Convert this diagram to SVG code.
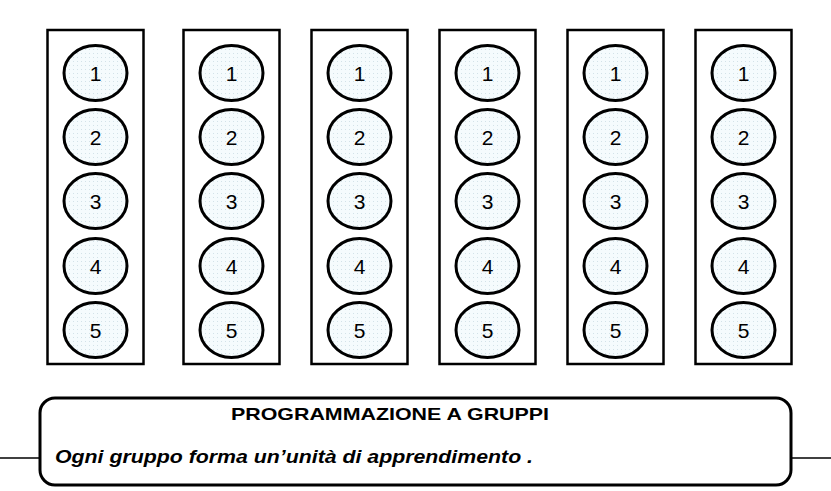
<svg xmlns="http://www.w3.org/2000/svg" width="831" height="491" viewBox="0 0 831 491">
<defs>
<pattern id="dots" width="4" height="4" patternUnits="userSpaceOnUse">
<rect width="4" height="4" fill="#f5fbfd"/>
<rect x="1" y="1" width="1" height="1" fill="#d3e2e8"/>
</pattern>
</defs>
<style>
.col{fill:#fff;stroke:#000;stroke-width:2.5}
.el{fill:url(#dots);stroke:#000;stroke-width:3}
.num{font-family:"Liberation Sans",Arial,sans-serif;font-size:21px;fill:#000;text-anchor:middle;dominant-baseline:central}
.box{fill:#fff;stroke:#000;stroke-width:3}
.title{font-family:"Liberation Sans",Arial,sans-serif;font-size:17px;font-weight:bold;fill:#000}
.sub{font-family:"Liberation Sans",Arial,sans-serif;font-size:18px;font-weight:bold;font-style:italic;fill:#000}
.ln{stroke:#000;stroke-width:1.3;fill:none}
</style>
<rect width="831" height="491" fill="#fff"/>
<g id="connectors">
<line class="ln" x1="0" y1="458" x2="40" y2="458"/>
<line class="ln" x1="791" y1="458" x2="831" y2="458"/>
</g>
<g id="group1">
<rect class="col" x="47.5" y="30" width="96" height="334"/>
<ellipse class="el" cx="95.5" cy="73" rx="31.5" ry="27.5"/><text class="num" x="95.5" y="73">1</text>
<ellipse class="el" cx="95.5" cy="137" rx="31.5" ry="27.5"/><text class="num" x="95.5" y="137">2</text>
<ellipse class="el" cx="95.5" cy="201" rx="31.5" ry="27.5"/><text class="num" x="95.5" y="201">3</text>
<ellipse class="el" cx="95.5" cy="266" rx="31.5" ry="27.5"/><text class="num" x="95.5" y="266">4</text>
<ellipse class="el" cx="95.5" cy="330" rx="31.5" ry="27.5"/><text class="num" x="95.5" y="330">5</text>
</g>
<g id="group2">
<rect class="col" x="183.5" y="30" width="96" height="334"/>
<ellipse class="el" cx="231.5" cy="73" rx="31.5" ry="27.5"/><text class="num" x="231.5" y="73">1</text>
<ellipse class="el" cx="231.5" cy="137" rx="31.5" ry="27.5"/><text class="num" x="231.5" y="137">2</text>
<ellipse class="el" cx="231.5" cy="201" rx="31.5" ry="27.5"/><text class="num" x="231.5" y="201">3</text>
<ellipse class="el" cx="231.5" cy="266" rx="31.5" ry="27.5"/><text class="num" x="231.5" y="266">4</text>
<ellipse class="el" cx="231.5" cy="330" rx="31.5" ry="27.5"/><text class="num" x="231.5" y="330">5</text>
</g>
<g id="group3">
<rect class="col" x="311.5" y="30" width="96" height="334"/>
<ellipse class="el" cx="359.5" cy="73" rx="31.5" ry="27.5"/><text class="num" x="359.5" y="73">1</text>
<ellipse class="el" cx="359.5" cy="137" rx="31.5" ry="27.5"/><text class="num" x="359.5" y="137">2</text>
<ellipse class="el" cx="359.5" cy="201" rx="31.5" ry="27.5"/><text class="num" x="359.5" y="201">3</text>
<ellipse class="el" cx="359.5" cy="266" rx="31.5" ry="27.5"/><text class="num" x="359.5" y="266">4</text>
<ellipse class="el" cx="359.5" cy="330" rx="31.5" ry="27.5"/><text class="num" x="359.5" y="330">5</text>
</g>
<g id="group4">
<rect class="col" x="439.5" y="30" width="96" height="334"/>
<ellipse class="el" cx="487.5" cy="73" rx="31.5" ry="27.5"/><text class="num" x="487.5" y="73">1</text>
<ellipse class="el" cx="487.5" cy="137" rx="31.5" ry="27.5"/><text class="num" x="487.5" y="137">2</text>
<ellipse class="el" cx="487.5" cy="201" rx="31.5" ry="27.5"/><text class="num" x="487.5" y="201">3</text>
<ellipse class="el" cx="487.5" cy="266" rx="31.5" ry="27.5"/><text class="num" x="487.5" y="266">4</text>
<ellipse class="el" cx="487.5" cy="330" rx="31.5" ry="27.5"/><text class="num" x="487.5" y="330">5</text>
</g>
<g id="group5">
<rect class="col" x="567.5" y="30" width="96" height="334"/>
<ellipse class="el" cx="615.5" cy="73" rx="31.5" ry="27.5"/><text class="num" x="615.5" y="73">1</text>
<ellipse class="el" cx="615.5" cy="137" rx="31.5" ry="27.5"/><text class="num" x="615.5" y="137">2</text>
<ellipse class="el" cx="615.5" cy="201" rx="31.5" ry="27.5"/><text class="num" x="615.5" y="201">3</text>
<ellipse class="el" cx="615.5" cy="266" rx="31.5" ry="27.5"/><text class="num" x="615.5" y="266">4</text>
<ellipse class="el" cx="615.5" cy="330" rx="31.5" ry="27.5"/><text class="num" x="615.5" y="330">5</text>
</g>
<g id="group6">
<rect class="col" x="695.5" y="30" width="96" height="334"/>
<ellipse class="el" cx="743.5" cy="73" rx="31.5" ry="27.5"/><text class="num" x="743.5" y="73">1</text>
<ellipse class="el" cx="743.5" cy="137" rx="31.5" ry="27.5"/><text class="num" x="743.5" y="137">2</text>
<ellipse class="el" cx="743.5" cy="201" rx="31.5" ry="27.5"/><text class="num" x="743.5" y="201">3</text>
<ellipse class="el" cx="743.5" cy="266" rx="31.5" ry="27.5"/><text class="num" x="743.5" y="266">4</text>
<ellipse class="el" cx="743.5" cy="330" rx="31.5" ry="27.5"/><text class="num" x="743.5" y="330">5</text>
</g>
<g id="legend">
<rect class="box" x="40" y="398" width="751" height="87" rx="15" ry="15"/>
<text class="title" x="231" y="420" textLength="318" lengthAdjust="spacingAndGlyphs">PROGRAMMAZIONE A GRUPPI</text>
<text class="sub" x="55" y="463" textLength="478" lengthAdjust="spacingAndGlyphs">Ogni gruppo forma un’unità di apprendimento .</text>
</g>
</svg>
